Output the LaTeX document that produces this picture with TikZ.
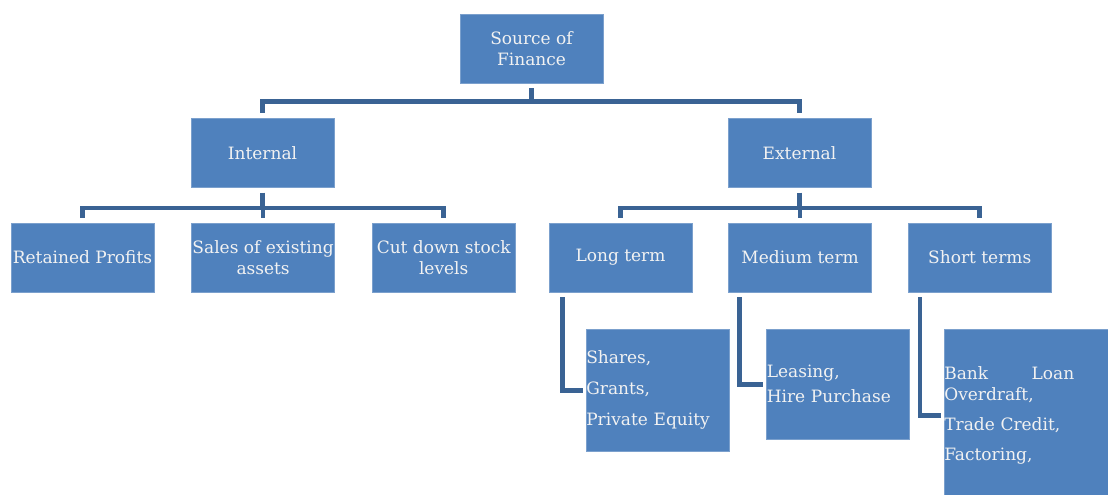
\documentclass[tikz,border=0pt]{standalone}
\usepackage{fontspec}
\setmainfont{DejaVu Serif}
\usetikzlibrary{positioning}
\definecolor{boxblue}{RGB}{79,129,189}
\definecolor{linkblue}{RGB}{58,99,148}
\definecolor{boxtext}{RGB}{242,242,242}

\begin{document}
\begin{tikzpicture}[x=1pt, y=-1pt,
		block/.style={fill=boxblue, draw=boxblue!75!white, line width=.6pt, text=boxtext, minimum width=143pt, minimum height=69pt, inner sep=0pt, align=center, font=\fontsize{17}{21.5}\selectfont},
		items/.style={block, anchor=north west, align=left, inner xsep=0pt},
		link/.style={draw=linkblue, line width=4.5pt, shorten <=5pt, shorten >=5pt},
		leaflink/.style={link, shorten >=3pt}]
		\useasboundingbox (0,0) rectangle (1108,495);
%		top levels
		\node[block] (source) at (531.5,48.5) {Source of\\ Finance};
		\node[block] (internal) at (262.5,153) {Internal};
		\node[block] (external) at (799.5,153) {External};
%		internal sources
		\node[block] (retained) at (82.5,257.5) {Retained Profits};
		\node[block, right=37pt of retained] (sales) {Sales of existing\\ assets};
		\node[block, right=37pt of sales] (cutdown) {Cut down stock\\ levels};
%		external sources
		\node[block] (longterm) at (620.5,257.5) {Long term};
		\node[block, right=36pt of longterm] (mediumterm) {Medium term};
		\node[block, right=36pt of mediumterm] (shortterm) {Short terms};
		\node[items, text width=143pt, minimum height=122pt] (longitems) at (586,329) {Shares,\\[9.5pt] Grants,\\[9.5pt] Private Equity};
		\node[items, text width=142pt, minimum height=110pt] (mediumitems) at (766,329) {Leasing,\\[3.5pt] Hire Purchase};
		\node[items, text width=170pt, minimum height=172pt] (shortitems) at (944,329) {\makebox[130pt]{Bank\hfill Loan}\\ Overdraft,\\[8.5pt] Trade Credit,\\[8.5pt] Factoring,};
		
		\draw[link] (source.south) -- ++(0,18) -| (internal.north);
		\draw[link] (source.south) -- ++(0,18) -| (external.north);
		\foreach \c in {retained, sales, cutdown}
			\draw[link] (internal.south) -- ++(0,20) -| (\c.north);
		\foreach \c in {longterm, mediumterm, shortterm}
			\draw[link] (external.south) -- ++(0,20) -| (\c.north);
		\draw[leaflink] ([xshift=14pt]longterm.south west) |- (longitems.west);
		\draw[leaflink] ([xshift=11pt]mediumterm.south west) |- (mediumitems.west);
		\draw[leaflink] ([xshift=12pt]shortterm.south west) |- (shortitems.west);
	\end{tikzpicture}
\end{document}
